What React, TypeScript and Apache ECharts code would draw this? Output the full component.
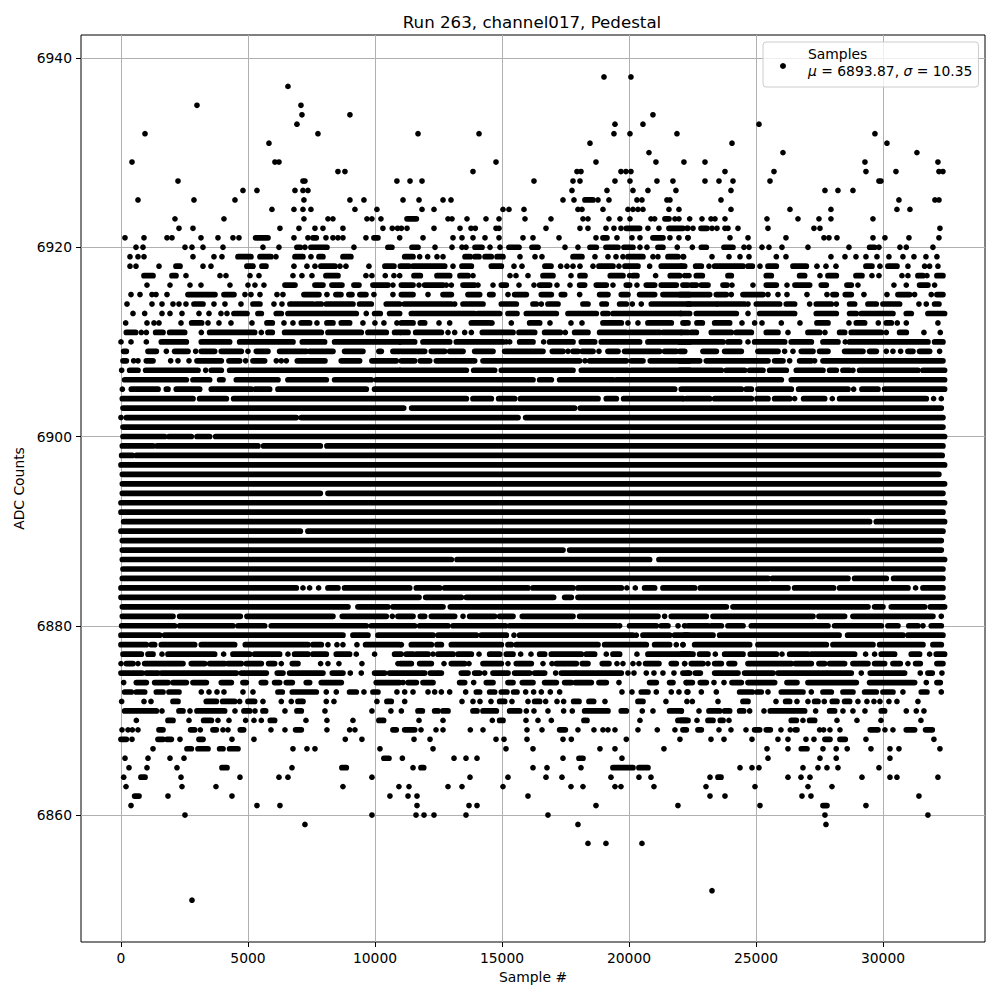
import React, { useEffect, useRef } from "react";
import * as echarts from "echarts";

type Entry = number | [number, number];
type Row = [number, Entry[]];

const titleText = "Run 263, channel017, Pedestal";
const xTicks = [0, 5000, 10000, 15000, 20000, 25000, 30000];
const yTicks = [6860, 6880, 6900, 6920, 6940];

// ADC level, then sample numbers: a number is one sample, a pair is an unbroken run of samples.
const rowsAbove: Row[] = [
  [6938, [19015, 20077]],
  [6937, [6573]],
  [6935, [2991, 7085]],
  [6934, [7124, 9013, 20943]],
  [6933, [6927, 19448, 20550, 25118]],
  [6932, [945, 7754, 11694, 14095, 19408, 20038, 21888, 29683]],
  [6931, [5825, 18464, 24055, 30156]],
  [6930, [20786, 26062, 31336]],
  [6929, [433, 6061, 6219, 14764, 18700, 21061, 22163, 22992, 29290, 32163]],
  [6928, [8541, 8817, 13858, 17952, 18110, 19684, 19880, 20077, 23779, 25708, 29329, 30510, 32203, 32360]],
  [6927, [2244, 7164, 7242, 10863, 11379, 11851, 16259, 17795, 18070, 19448, 20038, 21101, 21730, 22992, 23543, 24094, 25551, 29841, 29920]],
  [6926, [4802, 5353, 6849, 7164, 7360, 17755, 19133, 20156, 20746, 21848, 24015, 27715, 28227, 28817]],
  [6925, [669, 2873, 4487, 7203, 9013, 9565, 11103, 11733, 12678, 12992, 17401, 17834, [18267, 18582], 18779, 19211, 20313, 20510, 21494, 21612, 23622, 30628, 32045, 32203]],
  [6924, [5943, 6809, 7164, 7478, 9210, 10076, 11851, 12323, 15039, 15275, 15866, 17991, 18149, 18975, 19959, 20156, 20353, 20550, 21573, 21967, 24015, 26338, 27951, 30549, 31061]],
  [6923, [2125, 4054, 7203, 8148, 8344, 9683, 9879, 10234, [11261, 11628], 12874, 13032, 13622, 14370, 14882, 15905, 16928, 18188, 18385, 19211, 19644, 20038, 20865, 21009, [21416, 21573], 21809, 21967, 22389, 22874, 23228, 23386, 23779, 25432, 26653, 27479, 27951, 29605]],
  [6922, [2283, 2834, 6258, 7006, 7636, 7951, 8738, 10312, 10680, 10890, 11038, 11261, 12323, 13347, 13780, 13950, 14764, 14882, 16732, 18070, 18385, 19093, 19408, 19684, [19894, 20418], 20746, 21179, [21573, 22124], 22321, 22284, 22520, [22835, 23071], 23268, 23464, 23779, 23897, 24291, 25472, 27282, 27519, 32242]],
  [6921, [157, 905, 1811, 2007, 3149, 3818, 4408, 4644, [5300, 5786], 6809, 7360, [7557, 7688], 8069, 8344, 8541, 8738, 9643, [9958, 10116], 10972, 11890, 13071, 13425, 13858, 14331, 14882, 15826, 16220, 17244, 18700, [18975, 19133], 19526, 20117, 20432, [20943, 21337], 21612, 21967, 22321, 22323, 23976, 24685, 26180, 27676, 27873, 28188, 29605, 30077, 31022, 32203]],
  [6920, [590, 866, 2519, 2795, 3228, 4015, 5589, 6219, [6927, 7059], 7242, [7478, 8108], 9171, [10509, 10666], [11457, 11694], 12363, 13032, 13425, 13583, [13937, 14213], 14528, 14921, [15275, 15669], [16181, 16417], 17480, 17991, [18464, 18713], [19093, 19566], [19802, 20156], 20432, 20707, [21140, 21337], 21900, 22494, [22848, 23044], [23740, 24094], 24527, 24724, 25236, 25511, 26023, 27046, 28660, [29473, 29670], 29841, 30667, 30917, 31966]],
  [6919, [354, 669, 905, 2834, 3660, 3975, [4605, 5117], [5471, 5904], 6101, [6849, 7164], 7478, [7793, 7951], [8738, 9053], [11169, 11497], 11759, 12074, 12441, 12678, [13543, 13753], [13937, 14095], [14331, 14580], [14803, 15039], 15708, 16299, 16574, [17795, 18149], 18660, 19172, 19488, 19762, [19959, 20550], 20943, 21140, [21534, 21927], 22124, 22152, 23268, 23937, 24370, 24724, 25800, 26180, 27951, 28503, 28936, 29329, 29762, 30234, 30785, 31219, 31691, 32123]],
  [6918, [354, 590, 1496, [2165, 2322], 3228, 3542, [4959, 5196], [5550, 5707], 6809, 7321, 7636, [7872, 8423], 8620, 8856, 9761, [10391, 10745], [11000, 11339], [11497, 12743], 13071, [13425, 13793], [14580, 14974], 15472, 15787, [16692, 16928], 17309, 17558, 17795, 18070, 18582, [18818, 19369], 19605, [19841, 20353], 20812, [21271, 22190], 22061, [22625, 22848], 23149, [23373, 24488], [24685, 24855], 25157, [25472, 25800], [26456, 26981], 27400, 27755, 28148, [29329, 29565], 29880, [30195, 30549], 30982, 31638, 31835, 32163]],
  [6917, [[905, 1260], [2007, 2165], 2558, 3897, 4133, 5078, 5432, 6770, 7124, 7518, [8069, 8541], 9643, 9879, 10404, 10745, 10972, [11536, 11785], [12441, 12940], [13347, 13662], 13858, 15315, 15551, 16023, [16614, 17007], 17716, [18070, 18267], [19264, 19762], 20025, [20156, 20313], 21048, [21625, 21993], 22281, 22192, 22362, [22651, 22887], [23897, 24028], [25406, 25603], [26718, 26915], 27519, [27834, 28162], [28936, 29172], 29565, 29841, 30746, 30982, [31376, 31573], 31730, [32123, 32360]]],
  [6916, [1023, 1929, 2716, 3149, 4290, 4999, 5274, 5628, [6455, 6849], [7636, 7951], [8305, 8698], [9171, 9368], [9919, 10509], 10706, [11038, 11497], 11733, [11956, 12678], 12809, 13006, [13465, 13924], 14055, 14646, [14974, 15170], 15669, 16259, [16483, 16876], 17165, 17677, [18057, 18254], [18713, 19106], 19369, [19894, 20025], 20313, [20681, 21009], [21271, 21862], [22124, 22321], [22454, 22651], [22848, 23110], [23701, 23858], 24055, 24881, [25406, 25800], 26220, [26534, 27112], [27571, 27768], [28581, 28752], 29014, 30431, 30917, [31441, 31769], 32032]],
  [6915, [394, 748, 1220, 1378, 1811, [2637, 3700], [4054, 4448], 4881, 5117, 5471, 6140, 6376, [7203, 7793], 8108, [8462, 8659], [8974, 9092], [9407, 9643], 9958, 10706, [11038, 11497], 12087, [12678, 13006], [13662, 14121], [14514, 14646], 15236, [15498, 15958], [16548, 16942], [17336, 17467], 18057, [18844, 19172], [19697, 19959], [20418, 21009], [21337, 22386], [22000, 23175], [23438, 23832], 24028, [24488, 25275], 25472, 25866, 26220, 27007, 27794, [28030, 28162], [28515, 28752], 29250, 30156, [30589, 31048], 31244, 31900, [32123, 32360]]],
  [6914, [236, 1220, 1614, 2047, 2283, 2558, [2873, 3228], 3660, 4093, 4723, [5196, 5471], 6022, 6337, [6652, 7557], [7688, 7885], [8082, 9132], [9394, 9853], [10444, 10968], [11156, 13006], 13137, [13465, 14252], [14974, 15564], [16220, 16351], 16548, [16810, 17204], [18188, 18385], [18936, 19106], [19631, 19894], 20130, 20484, [20878, 22386], [22323, 23438], [23504, 24553], 24685, [25013, 25931], [26193, 26521], 27112, [27374, 27965], 28162, [28686, 28883], [29408, 29736], [29998, 30654], 31415, 31704, [32032, 32202]]],
  [6913, [472, 932, 1614, 1929, 2401, 3070, 3464, 3936, 4172, [4448, 4959], [5392, 5524], [6114, 6311], [6573, 9263], 9656, [9984, 10207], [10575, 10968], [11431, 13924], [14055, 14908], [15236, 15590], [15958, 17139], [17598, 18713], [18975, 19172], [19369, 22386], 22034, [22651, 24225], 24685, [25144, 26521], [27374, 28162], [28686, 28949], [29145, 30392], [30917, 31113], [31769, 32425]]],
  [6912, [184, 1023, 1299, 1496, 2362, [2782, 3175], 3425, 3857, 4330, 5156, [5747, 5956], 6416, 6770, [7098, 7426], 7715, [8108, 8344], [8672, 9001], 9525, 9997, 10351, 10863, [11038, 11497], [11785, 11956], 12520, 12940, [13793, 14514], 14606, 15367, [16089, 16483], 16889, 17716, 18149, [18975, 19697], 19959, 20353, [20746, 21665], 22190, [22126, 22323], [22677, 22887], [23373, 23963], 24448, 24947, 25236, 25997, 26731, [27400, 27834], 28660, [28949, 29277], 29815, [30129, 30326], 30562, 30917, 32163]],
  [6911, [[210, 577], 800, 997, [1365, 1653], [1916, 2506], 3162, [3490, 5261], 5524, [5786, 5956], [6442, 7885], [8148, 9459], [9722, 10444], [10772, 10968], [11038, 11300], [11602, 12612], 12874, 13137, 13530, 13793, [14226, 15433], [15669, 16286], [16679, 17296], 17493, [17860, 18385], [18844, 19894], [20025, 21206], [21337, 22321], 22061, [22454, 22651], [23241, 24028], [24225, 24816], [25406, 25866], 26259, [27046, 27505], 27715, [28293, 28489], [28752, 29933], 30129, [30654, 30917], 31612, 32255]],
];

const rowsMiddle: Row[] = [
  [6910, [0, 394, 997, [1588, 2572], [3162, 4277], [4671, 6770], [7137, 8016], [8410, 10968], [11000, 11562], [11890, 12940], [13202, 15039], 15170, 15302, [15695, 16220], 16640, [16876, 17795], [18123, 18647], [18910, 20418], [20746, 22386], [22000, 23701], [23897, 24356], 24685, [24947, 26128], [26390, 27178], [27637, 28227], 28515, [28686, 31769], [32032, 32360]]],
  [6909, [[105, 210], [1063, 1391], 1785, [2112, 2637], 2939, [3162, 3687], [3949, 4736], 4999, [5327, 5786], [6245, 7295], [7426, 8344], [8803, 9525], [10155, 10247], [10706, 10968], [11038, 11956], [12218, 12743], [12940, 13465], [13924, 14646], [15105, 16614], [16981, 17401], 17598, [17795, 17992], [18162, 18582], 18818, [19172, 19566], [19828, 21206], [21402, 21862], [22000, 22192], [22913, 23438], [23766, 24422], [25078, 25866], 26128, 26456, [26784, 27243], [27505, 27834], [28489, 29211], [29473, 29736], 30129, 30392, 30694, [30982, 31179], [31441, 31835], 32229]],
  [6908, [[79, 210], 499, 669, [997, 1260], 1955, 2244, 2677, [2992, 3949], [4251, 4671], 4907, [5196, 5655], 6114, 6311, 6508, [6941, 8029], [8672, 9394], [9879, 10837], [11038, 11562], [11785, 12153], [12415, 13924], [14252, 18057], 18267, [18451, 19894], [20090, 20550], [20838, 22386], [22000, 22782], [23044, 25472], [25734, 26062], 26325, [26718, 27178], 27309, [27637, 32360]]],
  [6907, [26, [341, 669], [971, 3031], 3333, [3556, 3949], [4277, 10968], [11000, 13596], [13885, 14711], [14974, 17795], [18123, 19959], [20090, 22386], [22000, 23635], [23832, 24553], [24750, 25275], [25537, 26193], [26587, 27637], [27899, 28162], [28424, 28686], 28817, [29080, 31376], [31573, 32425]]],
  [6906, [[144, 2572], [2834, 3490], [3883, 4015], [4540, 6180], [6573, 8082], [8410, 9853], [10050, 16220], [16483, 16942], [17270, 19369], [19500, 25997], [26390, 32425]]],
  [6905, [53, [407, 1457], [1785, 1850], [2178, 3096], [3556, 5130], [5287, 5852], [6180, 9656], [9984, 21796], [22059, 24422], [24619, 24816], [25078, 26390], [26679, 28621], 28845, [29171, 29802], [30064, 32425]]],
  [6904, [[53, 2834], [3096, 4146], [4435, 13596], [13858, 14580], [14869, 15498], [15722, 18779], [19106, 19500], [19789, 22124], 22126, [22257, 23175], [23373, 24816], [25039, 25472], [25734, 26325], 26521, [26876, 27702], 28004, [28293, 31704], 31992, 32295]],
  [6903, [[79, 11130], [11444, 17860], [18083, 32295]]],
  [6902, [0, [210, 6901], [7098, 15630], [15932, 32360]]],
  [6901, [[79, 32360]]],
  [6900, [[79, 1719], [1890, 2768], [2992, 3490], [3726, 32425]]],
  [6899, [[53, 1260], [1417, 5392], [5615, 7846], [8108, 32360]]],
  [6898, [[26, 446], [604, 32330]]],
  [6897, [[0, 32425]]],
  [6896, [[53, 32200]]],
  [6895, [[53, 32425]]],
  [6894, [[53, 7846], [8148, 32360]]],
  [6893, [[0, 32425]]],
  [6892, [[0, 32360]]],
  [6891, [[105, 29473], [29736, 32425]]],
  [6890, [[0, 7059], [7360, 32360]]],
  [6889, [[53, 32295]]],
  [6888, [[53, 17401], [17664, 32295]]],
  [6887, [[53, 13006], [13229, 20812], [21179, 32425]]],
  [6886, [[79, 32360]]],
  [6885, [[53, 25472], [25646, 28621], [28882, 30129], [30418, 32360]]],
  [6884, [[0, 6901], 7164, 7426, 7780, [8148, 8541], [8803, 11366], [11628, 12546], [12743, 16024], [16220, 17795], [17992, 19697], 19917, 20248, [20615, 21009], [21337, 22585], [22808, 26259], [26521, 28056], [28293, 30982], 31284, [31573, 32360]]],
  [6883, [[0, 11733], [11995, 13399], [13596, 17033], [17467, 17729], [17992, 32360]]],
  [6882, [[53, 8935], [9328, 10509], [10706, 12677], [12966, 23832], [24094, 29408], [29670, 29998], [30326, 31638], [31861, 32425]]],
  [6881, [[53, 2047], [2309, 4697], [4959, 8344], [8712, 10444], 10680, [10903, 11497], [11785, 11956], [12218, 13137], 13465, [13727, 14711], [14908, 15433], [15800, 17795], [18057, 21140], 21402, [21665, 23044], [23307, 27243], [27479, 28489], [28817, 31966], 32295]],
  [6880, [[26, 2112], [2309, 4408], [4605, 5655], [5917, 9656], [9853, 11562], [11759, 12874], [13071, 15144], [15302, 19500], 19631, [20025, 21075], [21271, 21534], 21931, 22190, [22323, 23110], [23241, 23635], [23897, 24488], [24816, 27833], [28096, 29933], [30195, 30589], [31018, 31376], 31573, [31900, 32295]]],
  [6879, [[0, 1522], [1719, 8738], [9132, 9722], [10116, 12284], [12481, 13990], [14186, 15170], 15472, [15695, 20156], 20287, [20550, 21599], [21796, 22321], [22192, 23307], [23569, 28270], [28608, 30786], [30982, 32360]]],
  [6878, [[0, 997], [1194, 1325], [1588, 2900], [3162, 4474], [4894, 7361], [7557, 7885], 8148, 8502, 8738, 9289, [9630, 10968], 11038, [11431, 12218], [12441, 12612], [13006, 14974], [15236, 15367], [15564, 18779], [19041, 20681], [21009, 21599], 21862, 22124, 22126, [22585, 24750], [25078, 27768], [28030, 29605], [29867, 31573], [31966, 32295]]],
];

const rowsBelow: Row[] = [
  [6877, [[79, 800], [1063, 1260], 1614, [1850, 3687], 4041, [4408, 5064], [5261, 6245], 6573, [6835, 7361], [7557, 8082], [8476, 8999], 9263, 9984, [10772, 10968], 11038, [11234, 11497], [11628, 12087], 12284, [12481, 13071], [13268, 13793], 14095, [14514, 14908], [15170, 15433], 15735, 16141, [16483, 16679], [16942, 18123], [18319, 18647], 19106, [19369, 19631], 20313, [20746, 22386], [22061, 22520], [22782, 23110], 23399, [23766, 24488], [24776, 25800], 26023, [26325, 27046], [27178, 28883], 29316, 29670, [29933, 30457], [31113, 31441], 31835, [32097, 32425]]],
  [6876, [0, [210, 472], 669, [932, 2440], [2768, 3293], [3490, 4080], [4212, 4736], [4934, 5524], [5812, 6048], 6311, [6744, 6967], 7859, 8148, 8580, 9485, 10903, [11000, 11431], [11759, 12218], 12717, [13005, 13530], 13701, [14252, 14974], 15236, [15564, 16154], 16614, 16968, [17139, 17926], [18162, 18385], [18949, 19212], 19526, 19762, 20156, 20392, [20654, 21179], [21665, 21862], 22190, 22192, [22454, 22913], 23110, [23373, 23635], [23937, 24160], [24685, 26390], [26548, 27178], [27479, 27702], [27899, 28489], [28817, 29408], [29670, 30064], [30392, 30680], 30982, [31284, 31468], [32123, 32360]]],
  [6875, [[0, 840], [997, 1457], [1588, 4540], [4736, 5720], [6153, 6376], [6639, 7951], [8318, 8738], 9027, 9460, [9984, 10378], [10575, 11956], [12179, 12612], [13399, 13662], [13924, 14121], 14318, [14646, 15236], [15498, 16089], [16286, 16679], 17112, [17336, 17860], [17926, 19697], 19959, 20196, 20681, 20983, 21337, 21770, [22124, 22386], 22323, [22612, 22808], [23373, 24290], [24553, 25669], [25865, 27768], [27834, 28752], 29145, [29500, 30851], 31468, [31769, 31940], 32320]],
  [6874, [105, [604, 997], [1325, 1850], [2047, 2572], [2834, 3359], [3949, 4343], [4802, 4933], [5524, 5694], [6048, 6245], [6508, 6744], [7295, 7426], [7885, 8672], [10050, 10968], 11103, [11300, 11628], [11890, 12284], [13333, 13530], 13885, [14383, 14646], [15236, 15433], [15800, 16220], [16679, 17139], [17467, 17729], [17886, 18516], [18818, 19106], 19605, [20812, 21075], [21599, 21730], 22255, [22257, 22494], [22808, 23044], 23346, 23740, [24055, 24422], [24685, 25734], [26220, 26613], [27046, 28949], [29473, 31244], 31704, [32124, 32255]]],
  [6873, [[144, 407], [604, 932], [1391, 1653], [1889, 2283], 3162, 3464, 3779, 4054, 4802, 5196, [6180, 6350], [6744, 7688], 8082, 8476, [8999, 9263], 9565, [9919, 10116], 10863, 11169, 11497, 12087, 12349, 12612, 12940, 13570, [13990, 14121], [14514, 14711], [14974, 15197], [15459, 15590], 15932, 16246, 16548, 16902, 17270, 19723, 20117, [20484, 20746], 21075, 21665, 21967, 22321, 22283, 22848, 23438, [24356, 24855], [25039, 25209], 25472, [25997, 26849], 27178, [27637, 27965], [28424, 28817], [29277, 29736], [29998, 30392], 30785, [31507, 31730], 32295]],
  [6872, [26, 905, 1181, [2047, 2244], [3359, 3754], [4002, 4474], 4671, [4999, 5261], 5589, 6311, 6704, [6967, 7164], 8082, 8384, 10076, [10470, 10640], 11169, 13425, 13858, 14134, 14567, [14908, 15105], 15393, 16023, [16286, 16483], 16719, 17165, 17427, [17821, 18031], [18424, 18608], 19054, [20353, 20550], 21455, 22281, 22494, 23504, [24488, 24685], 25787, [26167, 26325], 26613, 27046, [27309, 27440], 27689, [28004, 28188], [28489, 28686], 29014, 29368, 29644, 29880, 30234, 30549, 31376]],
  [6871, [[144, 1391], 1614, [2283, 2440], 2716, [2992, 4080], 4487, [4841, 5064], 5274, [5589, 5694], 6455, [6927, 7098], 8030, 9879, 10627, 11038, [11694, 11864], [12349, 12481], [12678, 12874], [13858, 14016], [14252, 14777], [15302, 15695], 15958, 16259, 16810, 17427, 17768, [18254, 19172], [19696, 19894], 20523, 20943, [21599, 22059], 22061, 22756, [23149, 23569], [23766, 23963], [24356, 24514], 24750, 25314, [25564, 26915], 27348, [27899, 28096], 28424, 28817, 29290, [29933, 30064], 30917, 31310, 31612]],
  [6870, [604, [1850, 2047], 2677, [3254, 3556], 3818, 4251, 4907, 5235, 5524, [5878, 6048], 7282, 8108, 9132, [10155, 10339], 11733, 12678, 14619, [14908, 15039], 15945, 16417, 16942, [18227, 18345], 20432, [21927, 22255], [22061, 22323], 22677, [23110, 23307], [23596, 23701], 23937, [26390, 26587], 26849, [27112, 27309], 28188, 28975, 29920, 31494]],
  [6869, [39, 275, 446, 669, [1496, 1653], [2742, 2900], 3123, [3621, 3752], 4015, 4212, [4697, 4828], 5904, 6455, [6875, 7098], 8108, 9002, 9210, [10706, 10837], [11169, 11562], 11812, 12402, 12678, 13753, 14252, 15984, 16575, [17270, 17493], 17991, 18621, 18975, 19172, 19448, 20353, 21114, 21809, [22124, 22257], [22716, 22848], 23543, 24015, 24606, [24947, 25144], [25406, 25564], 25983, 26351, [26548, 26613], 27505, 27663, 27912, 28306, [29500, 29801], 30077, 30392, [30917, 31244], [31677, 31940]]],
  [6868, [[0, 210], 433, [1457, 1653], [1811, 1981], 2322, [3070, 3228], 4369, 5235, 8830, 9485, 11536, 12166, 14764, 15079, 15984, 17401, 17729, 19894, 22006, 23228, 23740, 24842, 25865, 26259, 26967, 27282, [27715, 27912], [28306, 28515], 29329, 32005]],
  [6867, [1260, [2598, 2768], [3031, 3425], [3883, 4015], [4277, 4605], 6770, 7321, 7636, 10195, 12284, 15157, 16220, 18857, 19448, 21376, 25433, 26259, [26784, 27007], 27637, 28158, 28591, 29526, 30274, 30628, 32242]],
  [6866, [158, 1063, 1929, 2480, [10351, 10548], 11077, 13111, 13583, 14016, 17401, [18031, 18188], 19723, 25472, 27519, 28158, 30274]],
  [6865, [315, 1023, 2204, [3976, 4172], 6731, [8698, 8869], 11497, [11812, 11917], 16220, 16771, 18109, [19369, 20156], [20392, 20746], 24370, 24842, 25117, 26849, 27440, 27794, 28227, 29841]],
  [6864, [105, [787, 945], 2362, 4684, 6219, 6573, 9879, 13740, 15236, 16732, 17361, 19290, 20392, 20865, 23189, [23504, 23622], 26259, 26771, 27125, 29172, 30274, 30549, 32163]],
  [6863, [197, 2401, 3739, 8738, 10942, 11339, 12874, 13425, 15039, 17716, 18188, 19448, 19684, 20983, 23031, 24960, 27046, 27991]],
  [6862, [[538, 709], 1850, 4369, 10588, 11300, 11654, 16023, 23189, 23779, 26810, 27164, 31415]],
  [6861, [394, 5353, 6258, 11654, 13701, 14016, 18700, 21927, 25157, [27637, 27794], 29329]],
  [6860, [2519, 9879, 11615, 11930, 12323, 13583, 16810, 27715, 31769]],
  [6859, [7242, 17991, 27755]],
  [6857, [18385, 19093, 20510]],
  [6852, [23268]],
  [6851, [2795]],
];

const allRows: Row[] = [...rowsAbove, ...rowsMiddle, ...rowsBelow];
const singleSamples: number[][] = [];
const sampleRuns: number[][] = [];
for (const [level, entries] of allRows) {
  for (const e of entries) {
    if (typeof e === "number") singleSamples.push([e, level]);
    else sampleRuns.push([e[0], e[1], level]);
  }
}

const FONT = "DejaVu Sans";
const MARK = 5.7;
const TEXT_SIZE = 13.89;

export default function App() {
  const ref = useRef<HTMLDivElement>(null);
  useEffect(() => {
    const chart = echarts.init(ref.current!, undefined, { renderer: "svg" });
    const axisCommon = {
      type: "value" as const,
      nameLocation: "middle" as const,
      nameTextStyle: { fontFamily: FONT, fontSize: TEXT_SIZE, color: "#000" },
      axisLine: { show: false, onZero: false },
      axisTick: { show: true, length: 5, inside: false, lineStyle: { color: "#000", width: 1 } },
      splitLine: { show: true, lineStyle: { color: "#b0b0b0", width: 1 } },
    };
    chart.setOption({
      animation: false,
      backgroundColor: "#fff",
      title: {
        text: titleText,
        left: 527,
        top: 9,
        textAlign: "center",
        textStyle: { fontFamily: FONT, fontSize: 16.67, fontWeight: "normal", color: "#000" },
      },
      grid: { left: 81, top: 35, width: 904, height: 907, show: true, borderColor: "#000", borderWidth: 1, backgroundColor: "#fff" },
      xAxis: {
        ...axisCommon,
        min: -1575,
        max: 34016,
        name: "Sample #",
        nameGap: 28,
        axisTick: { ...axisCommon.axisTick, customValues: xTicks },
        axisLabel: { customValues: xTicks, fontFamily: FONT, fontSize: TEXT_SIZE, color: "#000", margin: 9, formatter: (v: number) => String(v) },
      },
      yAxis: {
        ...axisCommon,
        min: 6846.58,
        max: 6942.43,
        name: "ADC Counts",
        nameGap: 52,
        axisTick: { ...axisCommon.axisTick, customValues: yTicks },
        axisLabel: { customValues: yTicks, fontFamily: FONT, fontSize: TEXT_SIZE, color: "#000", margin: 9, formatter: (v: number) => String(v) },
      },
      legend: {
        data: [{ name: "Samples", icon: "circle" }],
        left: 763,
        top: 42,
        orient: "vertical",
        padding: [3, 6, 0, 17],
        itemWidth: 20,
        itemHeight: 6,
        itemGap: 0,
        backgroundColor: "rgba(255,255,255,0.8)",
        borderColor: "#cccccc",
        borderWidth: 1,
        borderRadius: 3,
        selectedMode: false,
        textStyle: {
          fontFamily: FONT,
          fontSize: TEXT_SIZE,
          color: "#000",
          lineHeight: 17,
          padding: [0, 0, 8, 10],
          rich: {
            i: { fontFamily: FONT, fontSize: TEXT_SIZE, fontStyle: "italic", color: "#000", lineHeight: 17 },
            t: { fontFamily: FONT, fontSize: TEXT_SIZE, color: "#000", lineHeight: 17 },
          },
        },
        formatter: () => "{t|Samples}\n{i|μ}{t| = 6893.87, }{i|σ}{t| = 10.35}",
      },
      series: [
        {
          name: "Samples",
          type: "scatter",
          data: singleSamples,
          symbol: "circle",
          symbolSize: MARK,
          itemStyle: { color: "#000", opacity: 1 },
          z: 3,
        },
        {
          name: "Sample runs",
          type: "custom",
          data: sampleRuns,
          encode: { x: [0, 1], y: 2 },
          z: 3,
          renderItem: (_p: unknown, api: any) => {
            const a = api.coord([api.value(0), api.value(2)]);
            const b = api.coord([api.value(1), api.value(2)]);
            return {
              type: "rect",
              shape: { x: a[0] - MARK / 2, y: a[1] - MARK / 2, width: b[0] - a[0] + MARK, height: MARK, r: MARK / 2 },
              style: { fill: "#000" },
            };
          },
        },
      ],
    });
    return () => chart.dispose();
  }, []);
  return <div ref={ref} style={{ position: "absolute", left: 0, top: 0, width: 1000, height: 1000 }} />;
}
